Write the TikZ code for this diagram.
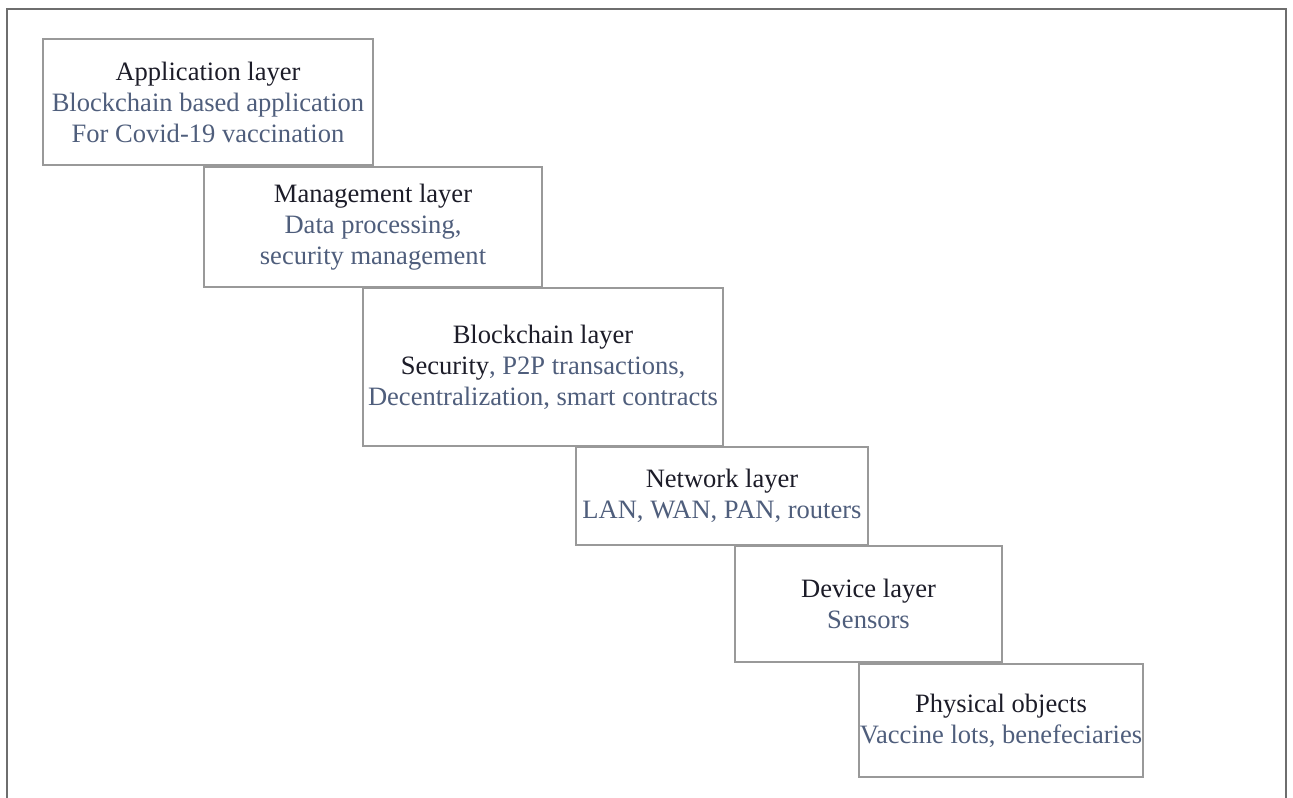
\documentclass[tikz,border=0pt]{standalone}
\usepackage{fontspec}
\setmainfont{Liberation Serif}
\definecolor{framegray}{HTML}{6E6E6E}
\definecolor{boxgray}{HTML}{999999}
\definecolor{titleink}{HTML}{1C1C28}
\definecolor{subink}{HTML}{4F5E7C}
\tikzset{
	layerbox/.style={draw=boxgray, line width=1.1pt, fill=white, inner sep=0pt, align=center,
		font=\fontsize{19.9}{23.2}\selectfont, text=subink},
	boxsize/.style 2 args={minimum width={#1*0.75pt}, minimum height={#2*0.75pt}},
}
\newcommand{\ltitle}[1]{\textcolor{titleink}{#1}}
\begin{document}
\begin{tikzpicture}[x=0.75pt, y=-0.75pt]
			\useasboundingbox (0,0) rectangle (1293,797);
			\draw [framegray, line width=1.5pt] (7,806) -- (7,9) -- (1286,9) -- (1286,806);
			
			\node [layerbox, boxsize={330}{126}] (app) at (208,102)
			{\ltitle{Application layer}\\Blockchain based application\\For Covid-19 vaccination};
			\node [layerbox, boxsize={338}{120}] (mgmt) at (373,227)
			{\ltitle{Management layer}\\Data processing,\\security management};
			\node [layerbox, boxsize={360}{158}] (chain) at (543,367)
			{\ltitle{Blockchain layer}\\\ltitle{Security}, P2P transactions,\\Decentralization, smart contracts};
			\node [layerbox, boxsize={292}{98}] (net) at (722,496)
			{\ltitle{Network layer}\\LAN, WAN, PAN, routers};
			\node [layerbox, boxsize={267}{116}] (dev) at (868.5,604)
			{\ltitle{Device layer}\\Sensors};
			\node [layerbox, boxsize={284}{113}] (phys) at (1001,720.5)
			{\ltitle{Physical objects}\\Vaccine lots, benefeciaries};
\end{tikzpicture}
\end{document}
